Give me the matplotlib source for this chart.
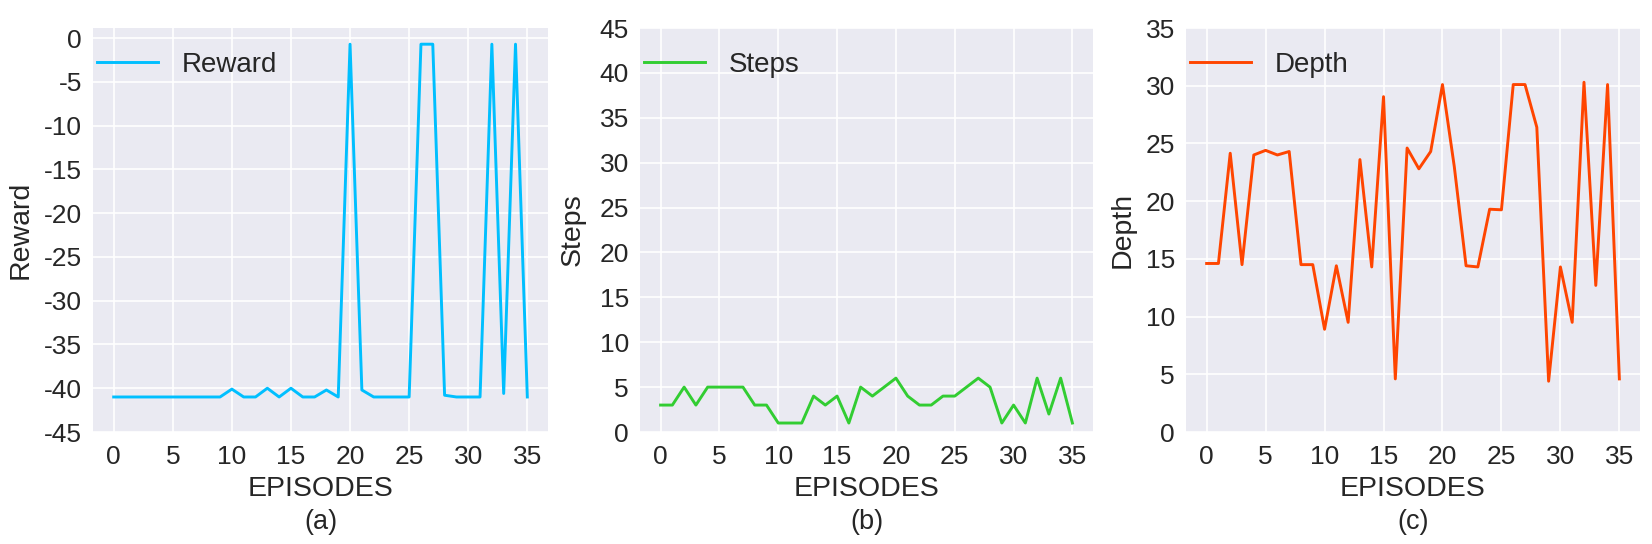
import matplotlib
matplotlib.use("Agg")
import matplotlib.pyplot as plt
import numpy as np

episodes = list(range(36))

reward = [-41, -41, -41, -41, -41, -41, -41, -41, -41, -41,
          -40.1, -41, -41, -40, -41, -40, -41, -41, -40.2, -41,
          -0.7, -40.2, -41, -41, -41, -41, -0.7, -0.7, -40.8, -41,
          -41, -41, -0.7, -40.6, -0.7, -41]

steps = [3, 3, 5, 3, 5, 5, 5, 5, 3, 3,
         1, 1, 1, 4, 3, 4, 1, 5, 4, 5,
         6, 4, 3, 3, 4, 4, 5, 6, 5, 1,
         3, 1, 6, 2, 6, 1]

depth = [14.6, 14.6, 24.15, 14.5, 24.0, 24.4, 24.0, 24.3, 14.5, 14.5,
         8.9, 14.4, 9.5, 23.6, 14.3, 29.05, 4.6, 24.6, 22.8, 24.3,
         30.1, 23.0, 14.4, 14.3, 19.3, 19.25, 30.1, 30.1, 26.4, 4.4,
         14.3, 9.5, 30.3, 12.7, 30.1, 4.6]

xticks = list(range(0, 40, 5))
reward_ticks = list(range(-45, 5, 5))
steps_ticks = list(range(0, 50, 5))
depth_ticks = list(range(0, 40, 5))

plt.rcParams['font.family'] = ['Liberation Sans', 'DejaVu Sans']
plt.rcParams['axes.unicode_minus'] = False
text_color = '#262626'

fig = plt.figure(figsize=(16.52, 5.44), dpi=100)
W, H = 1652, 544

panels = [
    dict(left=93, right=548, y=reward, ticks=reward_ticks, ylim=(-45, 1.15),
         color='#00BFFF', label='Reward', cap='(a)', ylab_x=34),
    dict(left=640, right=1093, y=steps, ticks=steps_ticks, ylim=(0, 45),
         color='#32CD32', label='Steps', cap='(b)', ylab_x=586),
    dict(left=1186, right=1640, y=depth, ticks=depth_ticks, ylim=(0, 35),
         color='#FF4500', label='Depth', cap='(c)', ylab_x=1136),
]

top, bottom = 28, 432

for p in panels:
    ax = fig.add_axes([p['left'] / W, 1 - bottom / H,
                       (p['right'] - p['left']) / W, (bottom - top) / H])
    ax.set_facecolor('#EAEAF2')
    for s in ax.spines.values():
        s.set_visible(False)
    ax.grid(True, color='white', linewidth=1.2)
    ax.set_axisbelow(True)
    ax.plot(episodes, p['y'], color=p['color'], linewidth=2.1, label=p['label'])
    ax.set_xticks(xticks)
    ax.set_yticks(p['ticks'])
    ax.set_ylim(*p['ylim'])
    ax.set_xlim(-1.75, 36.75)
    ax.tick_params(axis='x', length=0, pad=9.4, labelsize=19, labelcolor=text_color)
    ax.tick_params(axis='y', length=0, pad=8, labelsize=19, labelcolor=text_color)
    ax.set_xlabel('EPISODES', fontsize=20.5, color=text_color, labelpad=5)
    ax.set_ylabel(p['label'], fontsize=20.5, color=text_color)
    w = p['right'] - p['left']
    ax.yaxis.set_label_coords((p['ylab_x'] - p['left']) / w, 0.5)
    ax.text(0.5, (bottom - 522) / (bottom - top), p['cap'], transform=ax.transAxes,
            ha='center', va='center', fontsize=19.5, color=text_color)
    leg = ax.legend(loc='center left', bbox_to_anchor=(0.008, 0.908),
                    frameon=False, fontsize=20, borderaxespad=0, borderpad=0,
                    handlelength=2.2, handletextpad=0.85)
    for t in leg.get_texts():
        t.set_color(text_color)

fig.savefig('out.png', dpi=100)
